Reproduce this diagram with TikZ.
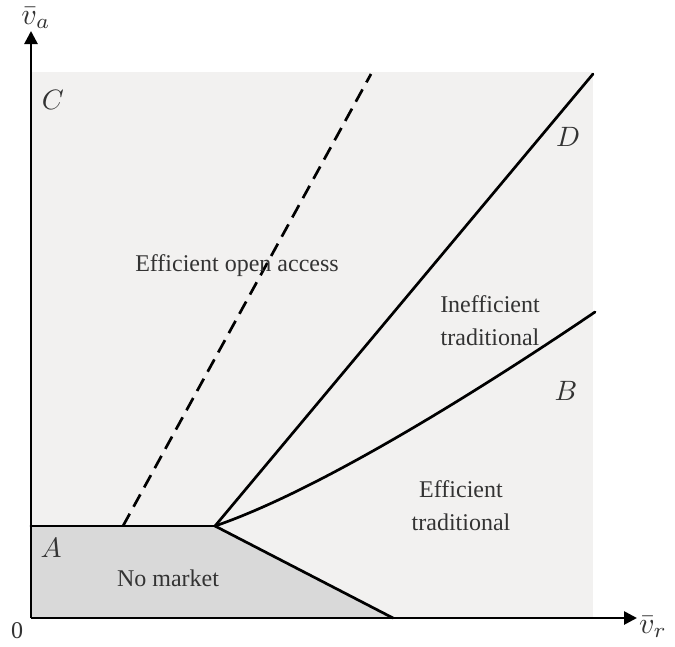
\documentclass[tikz,border=0pt]{standalone}
\usepackage{fontspec}
\usepackage{graphicx}
\setmainfont{Liberation Serif}
\usetikzlibrary{arrows.meta}
\definecolor{bgfill}{HTML}{F2F1F0}
\definecolor{nmfill}{HTML}{D9D9D9}
\definecolor{txt}{HTML}{333333}
\newcommand{\mylabelmath}[1]{\scalebox{2.8}{$#1$}}
\newcommand{\myaxismath}[1]{\scalebox{3.0}{$#1$}}
\tikzset{
  axis/.style={line width=2.7pt,-{Triangle[length=13pt,width=13pt]}},
  bound/.style={line width=2.7pt,line cap=round},
  lab/.style={text=txt,font=\fontsize{24}{29}\selectfont,align=center,inner sep=0pt},
  mlab/.style={text=txt,inner sep=0pt}
}
\begin{document}
\begin{tikzpicture}[x=1pt,y=-1pt]
\useasboundingbox (0,0) rectangle (675,646);
\coordinate (O) at (31,618);
\coordinate (L) at (31,526);
\coordinate (K) at (215,526);
\coordinate (M) at (393,618);
\coordinate (Dtop) at (593,74);
\coordinate (Btop) at (595,312);
\coordinate (Dash0) at (123,526);
\coordinate (Dash1) at (371,74);
\coordinate (Ytip) at (31,31);
\coordinate (Xtip) at (637,618);
% regions
\fill[bgfill] (31,72) rectangle (593,618);
\fill[nmfill] (L) -- (K) -- (M) -- (O) -- cycle;
% boundaries
\draw[bound] (L) -- (K);
\draw[bound] (K) -- (M);
\draw[bound] (K) -- (Dtop);
\draw[bound] (K) .. controls (320,490) and (480,390) .. (Btop);
\draw[line width=2.7pt,dash pattern=on 14pt off 8pt] (Dash0) -- (Dash1);
% axes
\draw[axis] (O) -- (Ytip);
\draw[axis] (O) -- (Xtip);
% labels
\node[mlab] (ya) at (36,18) {\myaxismath{\bar{v}_a}};
\node[mlab] (xr) at (653,627) {\myaxismath{\bar{v}_r}};
\node[lab] (zero) at (17,631) {0};
\node[mlab] (C) at (53,100) {\mylabelmath{C}};
\node[mlab] (D) at (568,137) {\mylabelmath{D}};
\node[mlab] (B) at (566,391) {\mylabelmath{B}};
\node[mlab] (A) at (51,548) {\mylabelmath{A}};
\node[lab] (eoa) at (237,266) {Efficient open access};
\node[lab] (it) at (490,321) {Inefficient\\[4pt]traditional};
\node[lab] (et) at (461,506) {Efficient\\[4pt]traditional};
\node[lab] (nm) at (168,578) {No market};
\end{tikzpicture}
\end{document}
